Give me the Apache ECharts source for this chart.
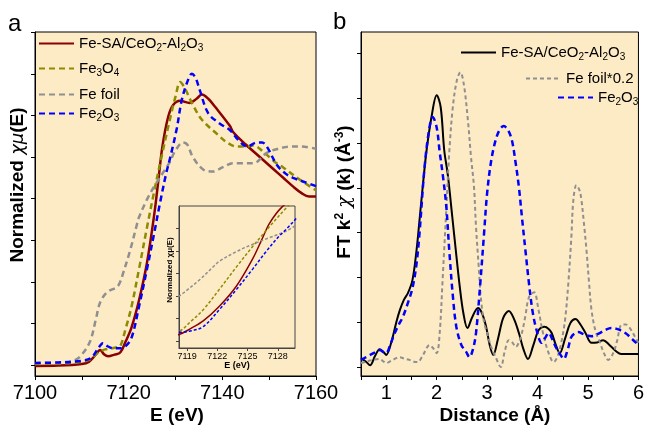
<!DOCTYPE html>
<html><head><meta charset="utf-8">
<script src="https://cdn.jsdelivr.net/npm/echarts@6/dist/echarts.min.js"></script>
<style>html,body{margin:0;padding:0;background:#fff}#c{width:647px;height:427px}</style>
</head><body><div id="c"></div>
<script>
// ---------- Panel a: XANES ----------
const eSA  = [7100,7105,7110,7111.5,7112.8,7113.9,7114.8,7115.6,7117,7118.2,7119.3,7120.6,7122.2,7123.9,7125.5,7126.4,7127.2,7128.4,7129.5,7131,7133,7134.5,7135.6,7137,7138.5,7141.6,7142.3,7145,7148,7151,7153,7155,7157,7158.5,7160];
const muSA = [-0.005,-0.003,0.005,0.015,0.045,0.072,0.05,0.042,0.05,0.06,0.11,0.18,0.31,0.49,0.73,0.9,1.05,1.19,1.25,1.27,1.26,1.28,1.3,1.28,1.24,1.15,1.12,1.06,1.0,0.94,0.9,0.86,0.825,0.81,0.81];

const eFe3O4  = [7100,7105,7110,7112,7113.5,7115,7116.5,7117.5,7118.2,7119.3,7120.6,7122.2,7123.9,7125.5,7127.2,7128.9,7130,7131,7132,7133.5,7135.6,7138.9,7141,7143.1,7145,7146.6,7148.5,7151,7153,7156.6,7160];
const muFe3O4 = [0.005,0.007,0.015,0.03,0.06,0.075,0.08,0.085,0.09,0.17,0.28,0.46,0.66,0.84,1.02,1.19,1.29,1.36,1.33,1.26,1.18,1.11,1.07,1.05,1.05,1.055,1.03,0.98,0.95,0.89,0.84];

const eFoil  = [7100,7105,7108,7109.6,7111.7,7113,7113.9,7115.4,7117.5,7118.2,7118.8,7120.3,7121.7,7122.2,7124,7125.5,7127.2,7128.9,7129.7,7131.6,7132.5,7133.7,7135.9,7138,7140,7142.3,7146.6,7149.5,7152,7154.5,7157,7160];
const muFoil = [0.008,0.012,0.02,0.04,0.11,0.22,0.3,0.35,0.375,0.4,0.44,0.55,0.67,0.71,0.8,0.86,0.92,0.98,1.02,1.07,1.06,1.0,0.94,0.93,0.95,0.97,0.97,1.02,1.04,1.05,1.05,1.04];

const eFe2O3  = [7100,7105,7110,7112,7113.5,7114.5,7115.5,7116.7,7118.2,7119.3,7120.6,7122.2,7123.9,7125.5,7126.7,7128,7128.9,7130.3,7131.3,7132.5,7133.5,7134.3,7135.2,7137,7139.5,7141.6,7143.5,7145.3,7147.4,7148.5,7149.5,7151.7,7153.5,7155.1,7157.5,7160];
const muFe2O3 = [0.01,0.012,0.02,0.035,0.08,0.105,0.09,0.08,0.08,0.09,0.13,0.28,0.46,0.64,0.78,0.92,1.0,1.14,1.27,1.36,1.4,1.38,1.32,1.21,1.16,1.13,1.08,1.05,1.07,1.07,1.05,0.96,0.92,0.9,0.88,0.86];

const eTicks  = [7100,7110,7120,7130,7140,7150,7160];
const eLabels = [7100,7120,7140,7160];
const muTicks = [0,0.2,0.4,0.6,0.8,1.0,1.2,1.4,1.6];
const insetETicks = [7119,7122,7125,7128];
const insetMuTicks = [0,0.2,0.4,0.6,0.8,1.0];

// ---------- Panel b: FT-EXAFS ----------
const rSA  = [0.5,0.6,0.68,0.78,0.87,0.95,1.0,1.1,1.2,1.27,1.35,1.43,1.52,1.6,1.66,1.73,1.8,1.9,2.0,2.08,2.15,2.22,2.31,2.38,2.45,2.53,2.61,2.7,2.82,2.9,2.98,3.05,3.12,3.22,3.32,3.43,3.53,3.63,3.72,3.81,3.92,4.02,4.14,4.22,4.28,4.36,4.44,4.55,4.65,4.75,4.85,4.95,5.07,5.18,5.3,5.42,5.55,5.66,5.8,6.0];
const ftSA = [0.2,0.12,0.04,0.25,0.4,0.33,0.27,0.55,1.0,1.27,1.5,1.65,1.94,2.6,3.28,4.1,4.84,5.6,6.07,5.8,4.84,4.3,3.35,2.6,1.87,1.2,0.87,1.1,1.32,1.2,0.9,0.5,0.27,0.65,1.1,1.25,1.08,0.76,0.4,0.18,0.5,0.82,0.9,0.85,0.76,0.5,0.31,0.65,0.98,1.07,0.95,0.76,0.54,0.55,0.6,0.5,0.36,0.29,0.29,0.29];

const rFoil  = [0.5,0.6,0.7,0.87,0.95,1.0,1.1,1.2,1.27,1.35,1.46,1.55,1.62,1.72,1.86,1.93,2.0,2.06,2.12,2.19,2.25,2.32,2.4,2.47,2.54,2.62,2.68,2.74,2.78,2.83,2.88,2.94,3.0,3.08,3.17,3.27,3.35,3.43,3.5,3.57,3.63,3.69,3.76,3.83,3.93,4.02,4.1,4.22,4.32,4.4,4.48,4.55,4.61,4.67,4.71,4.77,4.83,4.87,4.92,4.97,5.02,5.07,5.15,5.24,5.32,5.4,5.5,5.58,5.66,5.75,5.83,5.92,6.0];
const ftFoil = [0.09,0.12,0.15,0.18,0.12,0.09,0.14,0.2,0.22,0.19,0.16,0.12,0.11,0.25,0.49,0.42,0.31,0.76,2.0,3.5,4.8,5.8,6.4,6.58,6.3,5.5,4.7,4.02,3.13,2.3,1.5,1.0,0.76,0.45,0.22,0.0,0.35,0.6,0.55,0.45,0.55,0.76,1.15,1.56,1.67,1.27,0.8,0.31,0.11,0.25,0.6,1.1,1.87,2.9,3.73,4.06,3.95,3.73,3.2,2.61,1.9,1.27,0.8,0.54,0.3,0.16,0.31,0.6,0.94,0.95,0.87,0.7,0.54];

const rFe2O3  = [0.5,0.6,0.68,0.78,0.87,0.95,1.0,1.08,1.17,1.25,1.33,1.42,1.52,1.6,1.66,1.76,1.85,1.92,2.0,2.06,2.12,2.19,2.25,2.32,2.39,2.49,2.58,2.65,2.72,2.78,2.86,2.94,3.0,3.08,3.17,3.25,3.33,3.41,3.49,3.56,3.63,3.69,3.76,3.83,3.9,3.98,4.08,4.15,4.22,4.3,4.36,4.44,4.52,4.6,4.67,4.75,4.81,4.9,5.0,5.07,5.2,5.35,5.46,5.6,5.74,5.88,6.0];
const ftFe2O3 = [0.16,0.22,0.27,0.33,0.38,0.33,0.31,0.5,0.76,0.95,1.12,1.4,1.76,2.3,2.99,4.46,5.3,5.58,5.35,4.8,4.3,3.6,2.6,1.6,0.9,0.49,0.35,0.22,0.4,0.76,1.8,2.99,3.88,4.6,5.07,5.3,5.38,5.3,5.07,4.6,4.02,3.35,2.6,1.87,1.25,0.83,0.54,0.65,0.76,0.6,0.45,0.3,0.18,0.4,0.67,0.76,0.78,0.74,0.7,0.69,0.74,0.83,0.87,0.84,0.76,0.62,0.49];

const rTicks  = [0.5,1,1.5,2,2.5,3,3.5,4,4.5,5,5.5,6];
const rLabels = [1,2,3,4,5,6];
const ftTicks = [0,1,2,3,4,5,6,7];

const names = {
  sa: 'Fe-SA/CeO2-Al2O3', fe3o4: 'Fe3O4', foil: 'Fe foil', fe2o3: 'Fe2O3',
  saB: 'Fe-SA/CeO2-Al2O3 ', foilB: 'Fe foil*0.2', fe2o3B: 'Fe2O3 '
};
const legendText = {
  'Fe-SA/CeO2-Al2O3': 'Fe-SA/CeO{s|2}-Al{s|2}O{s|3}',
  'Fe-SA/CeO2-Al2O3 ': 'Fe-SA/CeO{s|2}-Al{s|2}O{s|3}',
  'Fe3O4': 'Fe{s|3}O{s|4}', 'Fe foil': 'Fe foil', 'Fe2O3': 'Fe{s|2}O{s|3}',
  'Fe foil*0.2': 'Fe foil*0.2', 'Fe2O3 ': 'Fe{s|2}O{s|3}'
};
const zip = (a, b) => a.map((v, i) => [v, b[i]]);
const plain = v => String(v);

const FONT = 'Liberation Sans, Arial, sans-serif';
const BEIGE = '#fdebc6';
const C = { sa: '#8b0000', fe3o4: '#8c8c00', foil: '#8f8f8f', fe2o3: '#0000ff', black: '#000000' };

function lineSeries(name, data, color, dashed, xi, width, extra) {
  return Object.assign({
    type: 'line', name, data, xAxisIndex: xi, yAxisIndex: xi,
    symbol: 'none', smooth: 0.35, clip: true,
    lineStyle: { color, width, type: dashed ? [6, 4] : 'solid', cap: 'butt' },
    itemStyle: { color }
  }, extra || {});
}

function legendAt(name, left, top) {
  return {
    data: [name], left, top, orient: 'horizontal', itemWidth: 35, itemHeight: 12, itemGap: 0,
    selectedMode: false, padding: 0,
    itemStyle: { color: 'rgba(0,0,0,0)', borderColor: 'rgba(0,0,0,0)', borderWidth: 0, opacity: 0 },
    formatter: n => legendText[n],
    textStyle: { fontFamily: FONT, fontSize: 15, color: '#000',
      rich: { s: { fontFamily: FONT, fontSize: 10, color: '#000', padding: [9, 0, 0, 0] } } }
  };
}

const axisCommon = (extra) => Object.assign({
  type: 'value', splitLine: { show: false },
  axisLine: { show: true, onZero: false, lineStyle: { color: '#000', width: 1 } }
}, extra);

const option = {
  backgroundColor: '#ffffff',
  animation: false,
  grid: [
    { left: 35, top: 32, width: 281, height: 344, show: true, backgroundColor: BEIGE, borderColor: '#000', borderWidth: 1 },
    { left: 361, top: 32, width: 281, height: 344, show: true, backgroundColor: BEIGE, borderColor: '#000', borderWidth: 1 },
    { left: 179, top: 206, width: 116, height: 142, show: true, backgroundColor: BEIGE, borderColor: '#444', borderWidth: 1, z: 5 }
  ],
  xAxis: [
    axisCommon({ gridIndex: 0, min: 7100, max: 7160,
      axisTick: { show: true, length: 4, customValues: eTicks, lineStyle: { color: '#000' } },
      axisLabel: { customValues: eLabels, formatter: plain, margin: 7, fontFamily: FONT, fontSize: 20, color: '#000' } }),
    axisCommon({ gridIndex: 1, min: 0.5, max: 6,
      axisTick: { show: true, length: 4, customValues: rTicks, lineStyle: { color: '#000' } },
      axisLabel: { customValues: rLabels, formatter: plain, margin: 7, fontFamily: FONT, fontSize: 20, color: '#000' } }),
    axisCommon({ gridIndex: 2, min: 7118.2, max: 7129.7, z: 7,
      axisLine: { show: true, onZero: false, lineStyle: { color: '#444', width: 1 } },
      axisTick: { show: true, length: 3, customValues: insetETicks, lineStyle: { color: '#444' } },
      axisLabel: { customValues: insetETicks, formatter: plain, margin: 4, fontFamily: FONT, fontSize: 9, color: '#000' } })
  ],
  yAxis: [
    axisCommon({ gridIndex: 0, min: -0.053, max: 1.601,
      axisTick: { show: true, length: 4, customValues: muTicks, lineStyle: { color: '#000' } },
      axisLabel: { show: false } }),
    axisCommon({ gridIndex: 1, min: -0.2, max: 7.48,
      axisTick: { show: true, length: 4, customValues: ftTicks, lineStyle: { color: '#000' } },
      axisLabel: { show: false } }),
    axisCommon({ gridIndex: 2, min: -0.06, max: 1.2, z: 7,
      axisLine: { show: true, onZero: false, lineStyle: { color: '#444', width: 1 } },
      axisTick: { show: true, length: 3, customValues: insetMuTicks, lineStyle: { color: '#444' } },
      axisLabel: { show: false } })
  ],
  legend: [
    legendAt(names.sa, 38, 36),
    legendAt(names.fe3o4, 38, 61),
    legendAt(names.foil, 38, 87),
    legendAt(names.fe2o3, 38, 106),
    legendAt(names.saB, 460, 45),
    legendAt(names.foilB, 525, 71),
    legendAt(names.fe2o3B, 557, 90)
  ],
  series: [
    lineSeries(names.sa, zip(eSA, muSA), C.sa, false, 0, 2.5),
    lineSeries(names.fe3o4, zip(eFe3O4, muFe3O4), C.fe3o4, true, 0, 2.5),
    lineSeries(names.foil, zip(eFoil, muFoil), C.foil, true, 0, 2.5),
    lineSeries(names.fe2o3, zip(eFe2O3, muFe2O3), C.fe2o3, true, 0, 2.5),
    lineSeries(names.sa, zip(eSA, muSA), C.sa, false, 2, 1.5, { z: 8 }),
    lineSeries(names.fe3o4, zip(eFe3O4, muFe3O4), C.fe3o4, true, 2, 1.5, { z: 8, lineStyle: { color: C.fe3o4, width: 1.5, type: [3, 2] } }),
    lineSeries(names.foil, zip(eFoil, muFoil), C.foil, true, 2, 1.5, { z: 8, lineStyle: { color: C.foil, width: 1.5, type: [3, 2] } }),
    lineSeries(names.fe2o3, zip(eFe2O3, muFe2O3), C.fe2o3, true, 2, 1.5, { z: 8, lineStyle: { color: C.fe2o3, width: 1.5, type: [3, 2] } }),
    lineSeries(names.saB, zip(rSA, ftSA), C.black, false, 1, 2),
    lineSeries(names.foilB, zip(rFoil, ftFoil), C.foil, true, 1, 2, { lineStyle: { color: C.foil, width: 2, type: [4, 3] } }),
    lineSeries(names.fe2o3B, zip(rFe2O3, ftFe2O3), C.fe2o3, true, 1, 2.5)
  ],
  graphic: [
    { type: 'text', x: 8, y: 12, style: { text: 'a', fontFamily: FONT, fontSize: 24, fill: '#000' } },
    { type: 'text', x: 333, y: 10, style: { text: 'b', fontFamily: FONT, fontSize: 24, fill: '#000' } },
    { type: 'text', x: 177, y: 416, style: { text: 'E (eV)', fontFamily: FONT, fontSize: 19, fontWeight: 'bold', fill: '#000', align: 'center', verticalAlign: 'middle' } },
    { type: 'text', x: 495, y: 416, style: { text: 'Distance (Å)', fontFamily: FONT, fontSize: 19, fontWeight: 'bold', fill: '#000', align: 'center', verticalAlign: 'middle' } },
    { type: 'text', x: 18, y: 185, rotation: Math.PI / 2, style: {
        text: '{b|Normalized }{g|χμ}{b|(E)}', align: 'center', verticalAlign: 'middle',
        rich: { b: { fontFamily: FONT, fontSize: 19, fontWeight: 'bold', fill: '#000' },
                g: { fontFamily: 'DejaVu Sans', fontStyle: 'italic', fontSize: 18, fill: '#000' } } } },
    { type: 'text', x: 345, y: 192, rotation: Math.PI / 2, style: {
        text: '{b|FT k}{sup|2}{b| }{g|χ}{b| (k) (Å}{sup|-3}{b|)}', align: 'center', verticalAlign: 'middle',
        rich: { b: { fontFamily: FONT, fontSize: 19, fontWeight: 'bold', fill: '#000' },
                sup: { fontFamily: FONT, fontSize: 12, fontWeight: 'bold', fill: '#000', padding: [0, 0, 10, 0] },
                g: { fontFamily: 'DejaVu Serif', fontStyle: 'italic', fontSize: 19, fill: '#000' } } } },
    { type: 'text', x: 237, y: 366, z: 9, style: { text: 'E (eV)', fontFamily: FONT, fontSize: 9, fontWeight: 'bold', fill: '#000', align: 'center', verticalAlign: 'middle' } },
    { type: 'text', x: 170, y: 270, z: 9, rotation: Math.PI / 2, style: {
        text: 'Normalized χμ(E)', fontFamily: FONT, fontSize: 8, fontWeight: 'bold', fill: '#000', align: 'center', verticalAlign: 'middle' } }
  ]
};

const chart = echarts.init(document.getElementById('c'), null, { renderer: 'canvas' });
chart.setOption(option);
</script>
</body></html>
